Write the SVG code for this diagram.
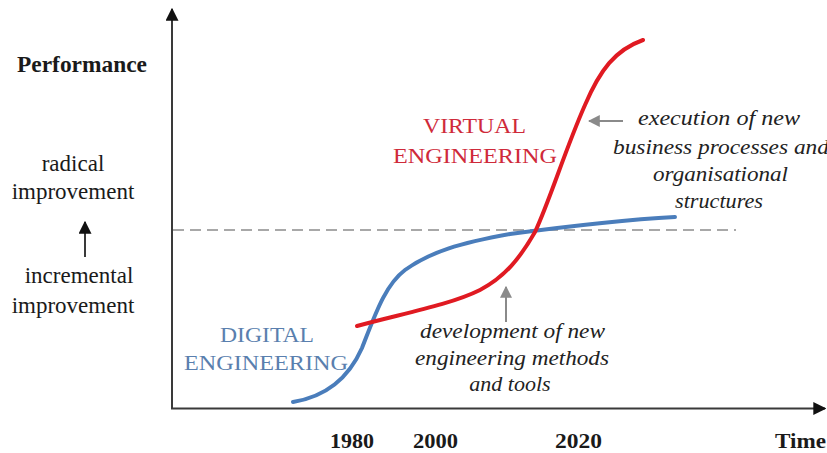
<svg xmlns="http://www.w3.org/2000/svg" width="827" height="453" viewBox="0 0 827 453">
  <style>
    .axis { stroke: #3a3a3a; stroke-width: 2; fill: none; }
    .lbl { font-family: "Liberation Serif", "Times New Roman", serif; fill: #1a1a1a; }
    .bold { font-weight: bold; }
    .side { font-size: 23px; text-anchor: middle; }
    .note { font-size: 22px; font-style: italic; fill: #222; }
    .caps { font-size: 21px; }
    .pointer { stroke: #8a8a8a; stroke-width: 2; fill: none; }
  </style>
  <defs>
    <marker id="axisHead" viewBox="0 0 10 10" refX="9" refY="5" markerWidth="6.5" markerHeight="6.5" markerUnits="strokeWidth" orient="auto">
      <path d="M0,0 L10,5 L0,10 z" fill="#111"/>
    </marker>
    <marker id="greyHead" viewBox="0 0 10 10" refX="9" refY="5" markerWidth="6" markerHeight="6" markerUnits="strokeWidth" orient="auto">
      <path d="M0,0 L10,5 L0,10 z" fill="#8a8a8a"/>
    </marker>
    <marker id="blackHead" viewBox="0 0 10 10" refX="9" refY="5" markerWidth="6.5" markerHeight="6.5" markerUnits="strokeWidth" orient="auto">
      <path d="M0,0 L10,5 L0,10 z" fill="#111"/>
    </marker>
  </defs>

  <rect width="827" height="453" fill="#ffffff"/>

  <!-- axes -->
  <g id="axes">
    <line class="axis" x1="172" y1="409" x2="172" y2="9" marker-end="url(#axisHead)"/>
    <line class="axis" x1="171" y1="408.5" x2="825" y2="408.5" marker-end="url(#axisHead)"/>
    <line x1="173" y1="230" x2="736" y2="230" stroke="#8c8c8c" stroke-width="1.5" stroke-dasharray="11 6"/>
  </g>

  <!-- axis labels -->
  <g id="axis-labels" class="lbl bold">
    <text x="17" y="72" font-size="23" textLength="130" lengthAdjust="spacingAndGlyphs">Performance</text>
    <text x="330" y="448" font-size="22" textLength="44" lengthAdjust="spacingAndGlyphs">1980</text>
    <text x="413" y="448" font-size="22" textLength="45" lengthAdjust="spacingAndGlyphs">2000</text>
    <text x="555" y="448" font-size="22" textLength="47" lengthAdjust="spacingAndGlyphs">2020</text>
    <text x="775" y="448" font-size="22" textLength="51" lengthAdjust="spacingAndGlyphs">Time</text>
  </g>

  <!-- improvement scale on the left -->
  <g id="scale-labels" class="lbl side">
    <text x="73" y="171">radical</text>
    <text x="73" y="199">improvement</text>
    <text x="79" y="283">incremental</text>
    <text x="73" y="313">improvement</text>
  </g>

  <!-- performance curves -->
  <g id="digital-engineering">
    <path d="M293,402 C330,396 350,375 362,348 C375,315 385,285 405,270 C430,252 460,243 510,234 C570,226 620,220 675,217" fill="none" stroke="#4a7dbb" stroke-width="4" stroke-linecap="round"/>
    <text class="lbl caps" style="fill:#5a7fae" x="220" y="342" textLength="94" lengthAdjust="spacingAndGlyphs">DIGITAL</text>
    <text class="lbl caps" style="fill:#5a7fae" x="184" y="370" textLength="164" lengthAdjust="spacingAndGlyphs">ENGINEERING</text>
  </g>

  <g id="virtual-engineering">
    <path d="M357,326 C400,314 450,305 480,290 C505,277 520,258 535,232 C550,200 565,150 585,105 C600,70 615,50 643,40" fill="none" stroke="#e01a22" stroke-width="4" stroke-linecap="round"/>
    <text class="lbl caps" style="fill:#cf2a3a" x="423" y="133" textLength="103" lengthAdjust="spacingAndGlyphs">VIRTUAL</text>
    <text class="lbl caps" style="fill:#cf2a3a" x="393" y="163" textLength="164" lengthAdjust="spacingAndGlyphs">ENGINEERING</text>
  </g>

  <!-- annotations -->
  <g id="note-execution" class="lbl note">
    <text x="638" y="125" textLength="162" lengthAdjust="spacingAndGlyphs">execution of  new</text>
    <text x="613" y="154" textLength="216" lengthAdjust="spacingAndGlyphs">business processes  and</text>
    <text x="653" y="181" textLength="135" lengthAdjust="spacingAndGlyphs">organisational</text>
    <text x="675" y="208" textLength="88" lengthAdjust="spacingAndGlyphs">structures</text>
  </g>

  <g id="note-development" class="lbl note">
    <text x="420" y="338" textLength="185" lengthAdjust="spacingAndGlyphs">development of new</text>
    <text x="415" y="365" textLength="194" lengthAdjust="spacingAndGlyphs">engineering methods</text>
    <text x="510" y="391" text-anchor="middle">and tools</text>
  </g>

  <!-- pointers -->
  <g id="connectors">
    <line class="axis" x1="85" y1="257" x2="85" y2="222" stroke="#111" marker-end="url(#blackHead)"/>
    <line class="pointer" x1="623" y1="121" x2="589" y2="121" marker-end="url(#greyHead)"/>
    <line class="pointer" x1="506" y1="322" x2="506" y2="287" marker-end="url(#greyHead)"/>
  </g>
</svg>
